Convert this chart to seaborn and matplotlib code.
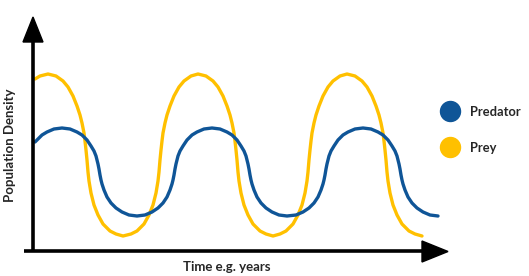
import numpy as np
import pandas as pd
import matplotlib
matplotlib.use("Agg")
import matplotlib.pyplot as plt
import seaborn as sns
from matplotlib.patches import Polygon
from matplotlib.lines import Line2D

# ---- data (time units, density units) ----
prey_time = [35, 40, 48,
             56, 63, 68, 73, 77, 80, 82, 84, 85, 86, 87, 88, 89, 91, 94, 98, 103, 110, 116, 123,
             131, 137, 144, 149, 153, 156, 158, 159, 160, 161, 162, 163, 165, 167, 170, 174, 179, 184, 191, 198,
             206, 213, 218, 223, 227, 230, 232, 234, 235, 236, 237, 238, 239, 241, 244, 248, 253, 260, 266, 273,
             280, 286, 293, 298, 302, 305, 307, 308, 309, 310, 311, 312, 314, 316, 319, 323, 328, 333, 340, 347,
             355, 362, 367, 372, 376, 379, 381, 383, 384, 385, 386, 387, 388, 390, 393, 397, 402, 409, 415, 422]
prey_density = [172, 175, 177,
                175, 170, 164, 155, 145, 136, 128, 118, 110, 101, 91, 79, 70, 58, 46, 36, 27, 20, 17, 15,
                17, 20, 27, 36, 46, 58, 70, 79, 91, 101, 110, 118, 128, 136, 145, 155, 164, 170, 175, 177,
                175, 170, 164, 155, 145, 136, 128, 118, 110, 101, 91, 79, 70, 58, 46, 36, 27, 20, 17, 15,
                17, 20, 27, 36, 46, 58, 70, 79, 91, 101, 110, 118, 128, 136, 145, 155, 164, 170, 175, 177,
                175, 170, 164, 155, 145, 136, 128, 118, 110, 101, 91, 79, 70, 58, 46, 36, 27, 20, 17, 15]

predator_time = [35, 37, 42, 47, 54, 62,
                 70, 77, 82, 87, 91, 94, 96, 97, 98, 99, 100, 101, 102, 104, 107, 111, 116, 122, 129, 137,
                 145, 152, 158, 163, 167, 170, 172, 173, 174, 175, 176, 177, 178, 180, 183, 187, 192, 197, 204, 212,
                 220, 227, 232, 237, 241, 244, 246, 247, 248, 249, 250, 251, 252, 254, 257, 261, 266, 272, 279, 287,
                 296, 303, 309, 314, 318, 321, 323, 324, 325, 326, 327, 328, 329, 331, 334, 338, 343, 348, 355, 363,
                 371, 378, 383, 388, 392, 395, 397, 398, 399, 400, 401, 402, 403, 405, 408, 412, 417, 423, 430, 438]
predator_density = [109, 111, 116, 119, 122, 123,
                    122, 119, 116, 111, 105, 100, 95, 91, 87, 82, 76, 71, 67, 61, 54, 48, 43, 39, 36, 35,
                    36, 39, 43, 48, 54, 61, 67, 71, 76, 82, 87, 91, 95, 100, 105, 111, 116, 119, 122, 123,
                    122, 119, 116, 111, 105, 100, 95, 91, 87, 82, 76, 71, 67, 61, 54, 48, 43, 39, 36, 35,
                    36, 39, 43, 48, 54, 61, 67, 71, 76, 82, 87, 91, 95, 100, 105, 111, 116, 119, 122, 123,
                    122, 119, 116, 111, 105, 100, 95, 91, 87, 82, 76, 71, 67, 61, 54, 48, 43, 39, 36, 35]

series_names = ["Predator", "Prey"]
x_label = "Time e.g. years"
y_label = "Population Density"
palette = {"Predator": "#0F5597", "Prey": "#FFC000"}

# ---- styling ----
sns.set_style("white")
plt.rcParams["font.family"] = ["Lato", "DejaVu Sans"]

fig = plt.figure(figsize=(5.29, 2.76), dpi=100)
ax = fig.add_axes([0, 0, 1, 1])

df = pd.concat([
    pd.DataFrame({"time": prey_time, "density": prey_density, "series": "Prey"}),
    pd.DataFrame({"time": predator_time, "density": predator_density, "series": "Predator"}),
], ignore_index=True)

sns.lineplot(data=df, x="time", y="density", hue="series", hue_order=["Prey", "Predator"],
             palette=palette, sort=False, estimator=None, linewidth=2.4, legend=False, ax=ax)

ax.set_xlim(0, 529)
ax.set_ylim(-25, 251)
ax.set_axis_off()

# axes with arrowheads
ax.plot([33, 33], [0, 210], color="black", lw=2.6, solid_capstyle="butt", zorder=5)
ax.add_patch(Polygon([(23, 209), (43, 209), (33, 234)], closed=True, color="black", zorder=5))
ax.plot([24, 424], [0, 0], color="black", lw=2.6, solid_capstyle="butt", zorder=5)
ax.add_patch(Polygon([(422, 10), (422, -11), (448, -0.5)], closed=True, color="black", zorder=5))

ax.text(227, -16, x_label, ha="center", va="center", fontsize=9.5, fontweight="bold")
ax.text(10, 106, y_label, ha="center", va="center", rotation=90, fontsize=9.5, fontweight="bold")

handles = [Line2D([], [], marker="o", ls="", color=palette[n], markersize=14.4) for n in series_names]
ax.legend(handles, series_names, loc="upper left", bbox_to_anchor=(442, 145),
          bbox_transform=ax.transData, frameon=False, borderpad=0, borderaxespad=0,
          handlelength=1.2, handletextpad=0.95, labelspacing=1.85,
          prop={"weight": "bold", "size": 9.3})

fig.savefig("out.png", dpi=100)
